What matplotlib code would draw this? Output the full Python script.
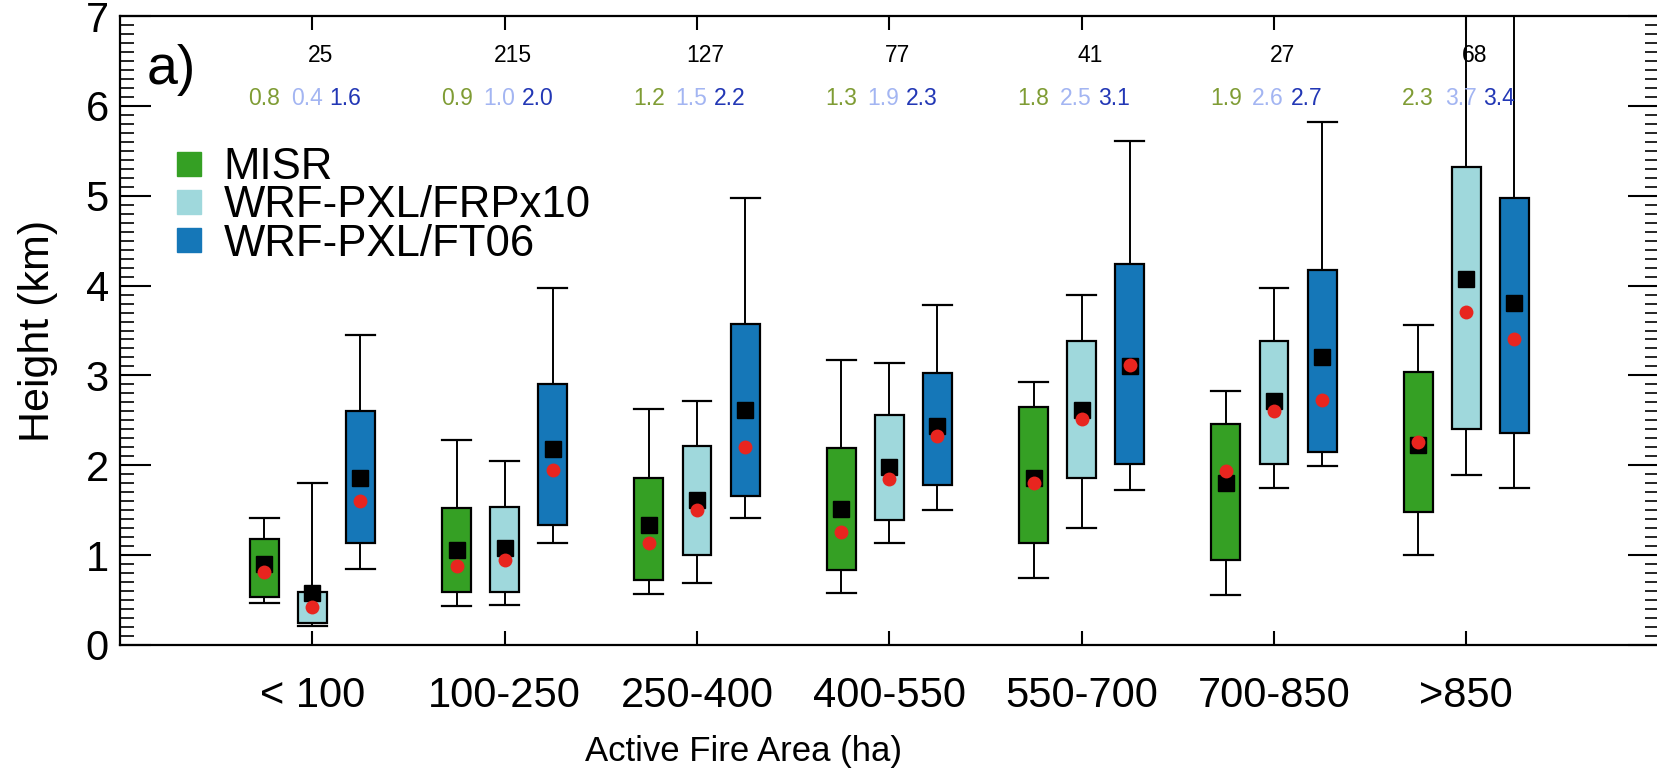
import matplotlib
matplotlib.use("Agg")
import matplotlib.pyplot as plt
from matplotlib.lines import Line2D
from matplotlib.ticker import MultipleLocator

plt.rcParams['font.family'] = ['Liberation Sans', 'DejaVu Sans']

# categories
areas = ["< 100", "100-250", "250-400", "400-550", "550-700", "700-850", ">850"]
counts = [25, 215, 127, 77, 41, 27, 68]

# MISR
misr_lo = [0.47, 0.43, 0.57, 0.58, 0.75, 0.56, 1.00]
misr_q1 = [0.53, 0.585, 0.72, 0.83, 1.14, 0.95, 1.48]
misr_med = [0.90, 1.06, 1.33, 1.51, 1.86, 1.80, 2.23]
misr_q3 = [1.18, 1.52, 1.86, 2.19, 2.65, 2.46, 3.04]
misr_hi = [1.41, 2.28, 2.63, 3.17, 2.93, 2.83, 3.56]
misr_mean = [0.81, 0.88, 1.14, 1.26, 1.80, 1.94, 2.26]
misr_txt = ["0.8", "0.9", "1.2", "1.3", "1.8", "1.9", "2.3"]

# WRF-PXL/FRPx10
frp_lo = [0.21, 0.45, 0.69, 1.13, 1.30, 1.75, 1.89]
frp_q1 = [0.25, 0.585, 1.00, 1.39, 1.86, 2.01, 2.40]
frp_med = [0.58, 1.08, 1.61, 1.98, 2.61, 2.72, 4.07]
frp_q3 = [0.59, 1.54, 2.21, 2.56, 3.38, 3.38, 5.32]
frp_hi = [1.80, 2.05, 2.71, 3.14, 3.90, 3.97, 7.6]
frp_mean = [0.42, 0.95, 1.50, 1.85, 2.51, 2.60, 3.71]
frp_txt = ["0.4", "1.0", "1.5", "1.9", "2.5", "2.6", "3.7"]

# WRF-PXL/FT06
ft_lo = [0.85, 1.13, 1.41, 1.50, 1.72, 1.99, 1.75]
ft_q1 = [1.14, 1.34, 1.66, 1.78, 2.01, 2.15, 2.36]
ft_med = [1.86, 2.18, 2.61, 2.44, 3.11, 3.20, 3.81]
ft_q3 = [2.60, 2.91, 3.57, 3.03, 4.24, 4.17, 4.97]
ft_hi = [3.45, 3.97, 4.97, 3.78, 5.61, 5.82, 7.6]
ft_mean = [1.60, 1.95, 2.20, 2.33, 3.12, 2.73, 3.40]
ft_txt = ["1.6", "2.0", "2.2", "2.3", "3.1", "2.7", "3.4"]

# name, box colour, text colour, box offset, text offset, stats...
series = [
    ("MISR", "#35a024", "#7f9c34", -0.25, -0.25, misr_lo, misr_q1, misr_med, misr_q3, misr_hi, misr_mean, misr_txt),
    ("WRF-PXL/FRPx10", "#9fd8dc", "#a3b5f2", 0.0, -0.03, frp_lo, frp_q1, frp_med, frp_q3, frp_hi, frp_mean, frp_txt),
    ("WRF-PXL/FT06", "#1577b8", "#2237b5", 0.25, 0.17, ft_lo, ft_q1, ft_med, ft_q3, ft_hi, ft_mean, ft_txt),
]

fig = plt.figure(figsize=(16.57, 7.68), dpi=100)
ax = fig.add_axes([120 / 1657, 1 - 645 / 768, 1 - 120 / 1657 + 0.001, 629 / 768])

centers = list(range(1, len(areas) + 1))
bw = 0.15

handles = []
for name, col, tcol, off, toff, lo, q1, med, q3, hi, mean, txt in series:
    stats = []
    for i in range(len(areas)):
        stats.append(dict(whislo=lo[i], q1=q1[i], med=med[i], q3=q3[i], whishi=hi[i], fliers=[]))
    pos = [c + off for c in centers]
    ax.bxp(stats, positions=pos, widths=bw, capwidths=bw, patch_artist=True, showfliers=False,
           boxprops=dict(facecolor=col, edgecolor="black", linewidth=1.6),
           whiskerprops=dict(color="black", linewidth=1.4),
           capprops=dict(color="black", linewidth=1.6),
           medianprops=dict(linewidth=0))
    ax.plot(pos, med, "s", color="black", markersize=11.5, zorder=5)
    ax.plot(pos, mean, "o", color="#e8251f", markersize=10, markeredgewidth=0, zorder=6)
    for c, t in zip(centers, txt):
        ax.text(c + toff, 6.08, t, color=tcol, fontsize=16.5, ha="center", va="center")
    handles.append(Line2D([], [], marker="s", ls="none", color=col, markersize=17, label=name))

for c, n in zip(centers, counts):
    ax.text(c + 0.044, 6.565, str(n), color="black", fontsize=16.5, ha="center", va="center")

ax.text(0.14, 6.4, "a)", fontsize=40, ha="left", va="center")

ax.set_xlim(0, 8)
ax.set_ylim(0, 7)
ax.set_xticks(centers)
ax.set_xticklabels(areas)
ax.yaxis.set_major_locator(MultipleLocator(1))
ax.yaxis.set_minor_locator(MultipleLocator(0.1))

ax.tick_params(axis="x", which="major", direction="in", length=10, width=1.5,
               top=True, bottom=True, labelsize=30, pad=22)
ax.tick_params(axis="y", which="major", direction="in", length=22, width=1.5,
               left=True, right=True, labelsize=30, pad=8)
ax.tick_params(axis="y", which="minor", direction="in", length=10, width=1.2,
               left=True, right=True)
for s in ax.spines.values():
    s.set_linewidth(1.6)

ax.set_ylabel("Height (km)", fontsize=31)
ax.yaxis.set_label_coords(-0.040, 0.5)
ax.set_xlabel("Active Fire Area (ha)", fontsize=25, va="center")
ax.xaxis.set_label_coords(0.405, -0.17)

ax.legend(handles=handles, loc="upper left", bbox_to_anchor=(0.036, 0.792), frameon=False,
          fontsize=31.5, handlelength=0.6, handletextpad=0.5, labelspacing=-0.06,
          borderpad=0, borderaxespad=0)

fig.savefig("out.png", dpi=100)
